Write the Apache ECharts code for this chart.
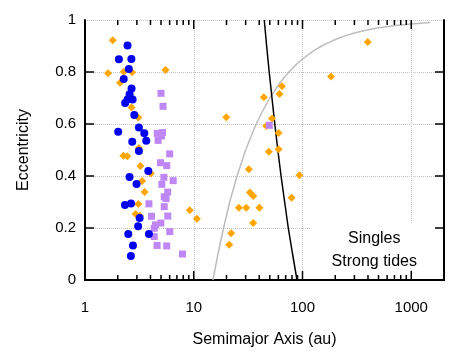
<!DOCTYPE html>
<html>
<head>
<meta charset="utf-8">
<script src="https://cdn.jsdelivr.net/npm/echarts@6/dist/echarts.min.js"></script>
<style>
  html, body { margin: 0; padding: 0; background: #fff; }
  #chart { width: 471px; height: 355px; }
</style>
</head>
<body>
<div id="chart"></div>
<script>
// [semimajor axis (au), eccentricity]
var singlesBlue = [
  [2.46, 0.902], [2.05, 0.849], [2.67, 0.850], [2.53, 0.812], [2.27, 0.773],
  [2.68, 0.737], [2.57, 0.714], [2.46, 0.694], [2.74, 0.694], [2.34, 0.681],
  [2.84, 0.635], [3.13, 0.587], [2.02, 0.570], [3.51, 0.564], [2.72, 0.532],
  [3.66, 0.536], [3.13, 0.496], [3.82, 0.419], [2.57, 0.396], [2.98, 0.369],
  [2.33, 0.288], [2.65, 0.294], [3.18, 0.238], [3.08, 0.207], [2.50, 0.177],
  [3.87, 0.177], [2.76, 0.133], [2.64, 0.092]
]
var singlesPurple = [
  [5.00, 0.718], [5.22, 0.668], [4.62, 0.564], [5.16, 0.567], [5.05, 0.554],
  [4.70, 0.537], [6.01, 0.485], [4.95, 0.451], [5.65, 0.440], [5.31, 0.395],
  [6.47, 0.382], [5.09, 0.368], [5.76, 0.338], [5.35, 0.320], [5.56, 0.313],
  [3.87, 0.293], [5.35, 0.282], [4.09, 0.245], [5.77, 0.246], [4.98, 0.219],
  [4.45, 0.212], [4.33, 0.199], [6.02, 0.186], [4.33, 0.167], [4.60, 0.133],
  [5.64, 0.131], [7.88, 0.100], [49.5, 0.595]
]
var singlesOrange = [
  [1.80, 0.922], [1.63, 0.795], [2.27, 0.801], [2.71, 0.799], [5.50, 0.808],
  [2.10, 0.759], [2.68, 0.663], [3.09, 0.625], [3.13, 0.508], [2.25, 0.478],
  [2.45, 0.476], [3.23, 0.438], [4.03, 0.410], [3.35, 0.381], [3.53, 0.338],
  [3.09, 0.292], [2.92, 0.254], [3.19, 0.247], [9.19, 0.268], [10.7, 0.236],
  [19.9, 0.626], [32.1, 0.426], [32.8, 0.337], [35.3, 0.323], [26.0, 0.278],
  [30.4, 0.278], [40.2, 0.278], [35.2, 0.219], [22.1, 0.180], [21.2, 0.136],
  [44.1, 0.703], [52.4, 0.621], [46.5, 0.592], [60.2, 0.565], [49.0, 0.493],
  [60.2, 0.503], [64.7, 0.745], [61.4, 0.715], [93.7, 0.403], [79.3, 0.316],
  [183, 0.783], [398, 0.915]
]
// grey limit curve
var greyCurve = [
  [15, 0], [16.7, 0.1], [18.8, 0.2], [21.4, 0.3], [25, 0.4], [30, 0.5],
  [33.5, 0.55], [37.5, 0.6], [43, 0.65], [50, 0.7], [60, 0.75], [68, 0.78],
  [75, 0.8], [88, 0.83], [100, 0.85], [125, 0.88], [150, 0.9], [188, 0.92],
  [215, 0.93], [250, 0.94], [300, 0.95], [375, 0.96], [500, 0.97],
  [750, 0.98], [1000, 0.985], [1500, 0.99]
]
// black limit curve
var blackCurve = [
  [89, 0], [81, 0.1], [74, 0.2], [68.5, 0.3], [63.5, 0.4], [59.3, 0.5],
  [55.6, 0.6], [52.4, 0.7], [49.4, 0.8], [46.8, 0.9], [44.5, 1]
]
var xMajorTicks = [10, 100, 1000]
var xMinorTicks = [2, 3, 4, 5, 6, 7, 8, 9, 20, 30, 40, 50, 60, 70, 80, 90,
  200, 300, 400, 500, 600, 700, 800, 900]
var yMajorTicks = [0.2, 0.4, 0.6, 0.8]
var keyLines = ['Singles', 'Strong tides']

var xMin = 1
var xMax = 2000
var font = 'Liberation Sans, Arial, sans-serif'
var chart = echarts.init(document.getElementById('chart'))

var blackLine = { show: true, lineStyle: { color: '#000', width: 2 } }
var gridLine = { show: true, lineStyle: { color: '#c4c4c4', width: 1, type: 'dotted' } }

var option = {
  animation: false,
  backgroundColor: '#fff',
  grid: { left: 85, right: 27, top: 20, bottom: 75 },
  xAxis: [
    {
      type: 'log', logBase: 10, min: xMin, max: xMax, position: 'bottom',
      name: 'Semimajor Axis (au)', nameLocation: 'middle', nameGap: 52,
      nameTextStyle: { color: '#000', fontSize: 16, fontFamily: font },
      axisLine: blackLine, axisTick: { show: false },
      axisLabel: {
        color: '#000', fontSize: 15, fontFamily: font, margin: 20, showMaxLabel: false,
        formatter: function (v) { return String(v) }
      },
      splitLine: gridLine
    },
    {
      type: 'log', logBase: 10, min: xMin, max: xMax, position: 'top',
      axisLine: blackLine, axisTick: { show: false }, axisLabel: { show: false }, splitLine: { show: false }
    }
  ],
  yAxis: [
    {
      type: 'value', min: 0, max: 1, interval: 0.2, position: 'left',
      name: 'Eccentricity', nameLocation: 'middle', nameGap: 53,
      nameTextStyle: { color: '#000', fontSize: 16, fontFamily: font },
      axisLine: blackLine, axisTick: { show: false },
      axisLabel: { color: '#000', fontSize: 15, fontFamily: font, margin: 9 },
      splitLine: gridLine
    },
    {
      type: 'value', min: 0, max: 1, interval: 0.2, position: 'right',
      axisLine: blackLine, axisTick: { show: false }, axisLabel: { show: false }, splitLine: { show: false }
    }
  ],
  series: [
    {
      type: 'line', data: greyCurve, showSymbol: false, z: 1,
      lineStyle: { color: '#bdbdbd', width: 1.5 }
    },
    {
      type: 'line', data: blackCurve, showSymbol: false, z: 1,
      lineStyle: { color: '#000', width: 1.5 }
    },
    {
      type: 'scatter', data: singlesOrange, symbol: 'diamond', symbolSize: 8,
      itemStyle: { color: '#ffa500', opacity: 1 }
    },
    {
      type: 'scatter', data: singlesPurple, symbol: 'rect', symbolSize: 7,
      itemStyle: { color: '#bf86f5', opacity: 1 }
    },
    {
      type: 'scatter', data: singlesBlue, symbol: 'circle', symbolSize: 8,
      itemStyle: { color: '#0000f0', opacity: 1 }
    }
  ]
}
chart.setOption(option)

// key box and inward tick marks, placed through the chart's own scales
var px = function (v) { return chart.convertToPixel({ xAxisIndex: 0, yAxisIndex: 0 }, v) }
var marks = []
function tick (p, dx, dy) {
  marks.push({
    type: 'line', z: 200, silent: true,
    shape: { x1: p[0], y1: p[1], x2: p[0] + dx, y2: p[1] + dy },
    style: { stroke: '#000', lineWidth: 1.5 }
  })
}
xMinorTicks.forEach(function (v) { tick(px([v, 0]), 0, -5); tick(px([v, 1]), 0, 5) })
xMajorTicks.forEach(function (v) { tick(px([v, 0]), 0, -9); tick(px([v, 1]), 0, 9) })
yMajorTicks.forEach(function (v) { tick(px([xMin, v]), 9, 0); tick(px([xMax, v]), -9, 0) })

var keyX = px([1000, 0])[0]
var keyTop = px([1000, 0.22])[1]
var keyBottom = px([1000, 0.04])[1]
marks.push({
  type: 'rect', z: 150, silent: true,
  shape: { x: 311, y: keyTop, width: px([xMax, 0])[0] - 313, height: keyBottom - keyTop },
  style: { fill: '#fff' }
})
marks.push({
  type: 'text', z: 160, x: keyX - 37, y: keyTop + 16,
  style: { text: keyLines[0], fill: '#000', fontSize: 16, fontFamily: font, align: 'center', verticalAlign: 'middle' }
})
marks.push({
  type: 'text', z: 160, x: keyX - 37, y: keyTop + 39,
  style: { text: keyLines[1], fill: '#000', fontSize: 16, fontFamily: font, align: 'center', verticalAlign: 'middle' }
})
chart.setOption({ graphic: marks })
</script>
</body>
</html>
